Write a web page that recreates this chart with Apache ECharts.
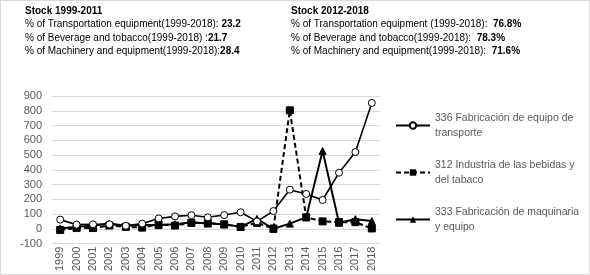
<!DOCTYPE html>
<html>
<head>
<meta charset="utf-8">
<script src="https://cdn.jsdelivr.net/npm/echarts@6/dist/echarts.min.js"></script>
<style>
  html, body { margin: 0; padding: 0; background: #fff; }
  #chart { width: 590px; height: 275px; box-sizing: border-box; border: 1px solid #d9d9d9; }
</style>
</head>
<body>
<div id="chart"></div>
<script>
const years = ['1999','2000','2001','2002','2003','2004','2005','2006','2007','2008',
               '2009','2010','2011','2012','2013','2014','2015','2016','2017','2018'];

// 336 transport equipment
const transport = [62, 28, 30, 30, 20, 35, 70, 84, 92, 78, 93, 112, 50, 120, 265, 236, 195, 380, 520, 853];
// 312 beverage and tobacco
const beverage = [-8, 5, 5, 22, 13, 8, 30, 22, 40, 40, 30, 13, 40, 2, 803, 78, 50, 45, 45, 2];
// 333 machinery and equipment
const machinery = [2, 13, 20, 36, 20, 25, 25, 30, 45, 35, 30, 13, 67, 0, 35, 78, 528, 41, 65, 52];

const seriesNames = [
  '336 Fabricación de equipo de transporte',
  '312 Industria de las bebidas y del tabaco',
  '333 Fabricación de maquinaria y equipo'
];
const legendLabels = [
  '336 Fabricación de equipo de\ntransporte',
  '312 Industria de las bebidas y\ndel tabaco',
  '333 Fabricación de maquinaria\ny equipo'
];

const leftTitle = 'Stock 1999-2011';
const leftLines = [
  ['% of Transportation equipment(1999-2018): ', '23.2'],
  ['% of Beverage and tobacco(1999-2018) :', '21.7'],
  ['% of Machinery and equipment(1999-2018):', '28.4']
];
const rightTitle = 'Stock 2012-2018';
const rightLines = [
  ['% of Transportation equipment (1999-2018):  ', '76.8%'],
  ['% of Beverage and tobacco(1999-2018):  ', '78.3%'],
  ['% of Machinery and equipment(1999-2018):  ', '71.6%']
];

const font = 'Liberation Sans, Arial, sans-serif';

function blockText(title, lines) {
  return '{h|' + title + '}\n' + lines.map(l => '{n|' + l[0] + '}{b|' + l[1] + '}').join('\n');
}
const richStyle = {
  h: { fontWeight: 'bold', fontSize: 10, color: '#000', lineHeight: 13.5, fontFamily: font },
  n: { fontWeight: 'normal', fontSize: 10, color: '#000', lineHeight: 13.5, fontFamily: font },
  b: { fontWeight: 'bold', fontSize: 10, color: '#000', lineHeight: 13.5, fontFamily: font }
};

const chart = echarts.init(document.getElementById('chart'), null, { renderer: 'canvas' });

chart.setOption({
  animation: false,
  title: [
    { text: blockText(leftTitle, leftLines), left: 24, top: 3, padding: 0,
      textStyle: { fontWeight: 'normal', rich: richStyle } },
    { text: blockText(rightTitle, rightLines), left: 290, top: 3, padding: 0,
      textStyle: { fontWeight: 'normal', rich: richStyle } }
  ],
  grid: { left: 51, right: 209, top: 95, bottom: 28, containLabel: false },
  legend: {
    orient: 'vertical',
    left: 394,
    top: 102,
    padding: 0,
    itemWidth: 34,
    itemHeight: 8,
    itemGap: 2,
    data: seriesNames,
    formatter: name => legendLabels[seriesNames.indexOf(name)],
    textStyle: {
      fontFamily: font, fontSize: 10.5, color: '#595959', lineHeight: 15,
      padding: [15, 0, 0, 0]
    }
  },
  xAxis: {
    type: 'category',
    data: years,
    boundaryGap: true,
    axisLine: { lineStyle: { color: '#d9d9d9', width: 1 } },
    axisTick: { show: false },
    axisLabel: { rotate: 90, color: '#595959', fontFamily: font, fontSize: 11, margin: 3, interval: 0 }
  },
  yAxis: {
    type: 'value',
    min: -100,
    max: 900,
    interval: 100,
    axisLine: { show: false },
    axisTick: { show: false },
    axisLabel: { color: '#595959', fontFamily: font, fontSize: 11, margin: 10 },
    splitLine: { lineStyle: { color: '#d9d9d9', width: 1 } }
  },
  series: [
    {
      name: seriesNames[0], type: 'line', data: transport,
      symbol: 'circle', symbolSize: 7,
      itemStyle: { color: '#fff', borderColor: '#000', borderWidth: 1 },
      lineStyle: { color: '#000', width: 1.6 },
      z: 3
    },
    {
      name: seriesNames[1], type: 'line', data: beverage,
      symbol: 'rect', symbolSize: 7,
      itemStyle: { color: '#000', borderColor: '#000' },
      lineStyle: { color: '#000', width: 2, type: [5, 3] },
      z: 2
    },
    {
      name: seriesNames[2], type: 'line', data: machinery,
      symbol: 'triangle', symbolSize: 7,
      itemStyle: { color: '#000', borderColor: '#000' },
      lineStyle: { color: '#000', width: 2 },
      z: 2
    }
  ]
});
</script>
</body>
</html>
